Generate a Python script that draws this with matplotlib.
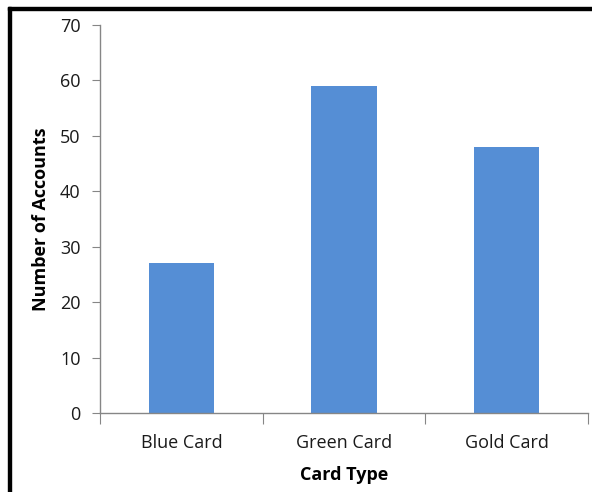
import matplotlib.pyplot as plt
from matplotlib.patches import Rectangle

cards = ['Blue Card', 'Green Card', 'Gold Card']
accounts = [27, 59, 48]
y_ticks = [0, 10, 20, 30, 40, 50, 60, 70]

plt.rcParams['font.family'] = ['Open Sans', 'DejaVu Sans']

fig = plt.figure(figsize=(5.92, 4.92), dpi=100)
W, H = 592, 492
# axes box in pixels: left 100, right 588, top 25, bottom 413
ax = fig.add_axes([100 / W, 1 - 413 / H, (588 - 100) / W, (413 - 25) / H])

x = range(len(cards))
ax.bar(x, accounts, width=0.4, color='#558ED5')

ax.set_xlim(-0.5, len(cards) - 0.5)
ax.set_ylim(0, 70)
ax.set_yticks(y_ticks)
ax.set_xticks([i - 0.5 for i in range(len(cards) + 1)], minor=False)
ax.set_xticklabels([])
ax.set_xticks(list(x), minor=True)
ax.set_xticklabels(cards, minor=True)

axis_col = '#868686'
for side in ['top', 'right']:
    ax.spines[side].set_visible(False)
for side in ['left', 'bottom']:
    ax.spines[side].set_color(axis_col)
    ax.spines[side].set_linewidth(1.0)

ax.tick_params(axis='y', which='major', direction='out', length=6, color=axis_col,
               labelsize=13, labelcolor='#1a1a1a', pad=8)
ax.tick_params(axis='x', which='major', direction='out', length=8, color=axis_col)
ax.tick_params(axis='x', which='minor', length=0, labelsize=13, labelcolor='#1a1a1a', pad=15)

ax.set_xlabel('Card Type', fontsize=13, fontweight='bold', labelpad=10)
ax.set_ylabel('Number of Accounts', fontsize=13, fontweight='bold', labelpad=7)

# black frame on the left and top of the image
fig.patches.append(Rectangle((8 / W, 0), 3 / W, 1 - 7 / H, transform=fig.transFigure,
                             color='black', zorder=10))
fig.patches.append(Rectangle((8 / W, 1 - 10 / H), 1 - 8 / W, 3 / H, transform=fig.transFigure,
                             color='black', zorder=10))

fig.savefig('out.png', dpi=100)
